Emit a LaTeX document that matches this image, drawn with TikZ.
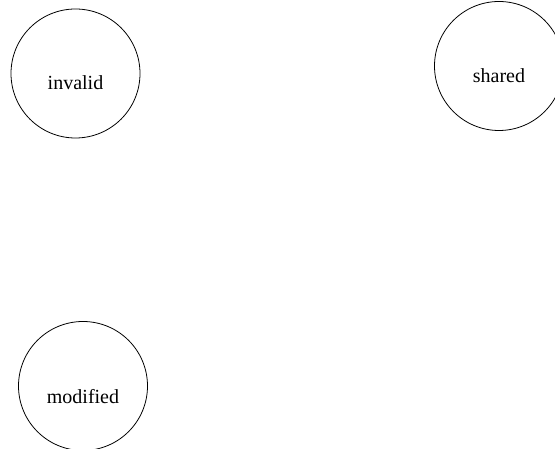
\documentclass[tikz,border=0pt]{standalone}
\usepackage{fontspec}
\setmainfont{Liberation Serif}
\usepackage{tikz}
\tikzset{state/.style={draw=black, line width=0.8pt}}
\tikzset{statename/.style={font=\fontsize{20}{24}\selectfont, inner sep=0pt}}

\begin{document}
\begin{tikzpicture}[x=1pt,y=1pt]

\newcommand\R{64.5pt};

\useasboundingbox (0,0) rectangle (555,449); %% spacing

\draw[state] (75.5,375.5) circle (\R);
\node[statename] (invalid) at (75.5,366) {invalid};

\draw[state] (499,383) circle (\R);
\node[statename] (shared) at (499,373) {shared};

\draw[state] (83,63) circle (\R);
\node[statename] (modified) at (83,52) {modified};

\end{tikzpicture}
\end{document}
